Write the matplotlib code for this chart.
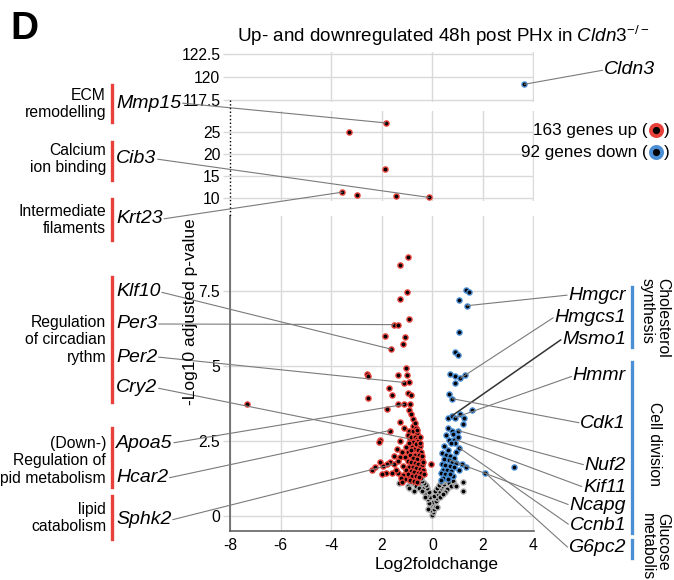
import matplotlib.pyplot as plt
from matplotlib.lines import Line2D

plt.rcParams['font.family'] = ['Liberation Sans', 'DejaVu Sans']
plt.rcParams['mathtext.fontset'] = 'custom'
plt.rcParams['mathtext.rm'] = 'Liberation Sans'
plt.rcParams['mathtext.it'] = 'Liberation Sans:italic'

# ---- data (log2 fold change, -log10 adjusted p) ----
up_main = [
    (-0.98, 8.62), (-1.29, 8.37), (-1.02, 7.47), (-1.26, 7.23), (-0.92, 6.56), (-1.53, 6.38),
    (-1.34, 6.38), (-1.87, 6.00), (-1.09, 5.97), (-1.17, 5.72), (-1.62, 5.56), (-1.05, 4.95),
    (-2.57, 4.75), (-2.54, 4.68), (-1.34, 4.70), (-1.00, 4.70), (-1.11, 4.45), (-0.91, 4.48),
    (-1.70, 4.27), (-1.59, 4.03), (-0.96, 4.10), (-0.86, 4.03), (-2.54, 3.95), (-1.34, 3.72),
    (-1.11, 3.72), (-0.90, 3.72), (-1.78, 3.56), (-0.92, 3.55), (-0.84, 3.41), (-0.76, 3.23),
    (-1.29, 3.13), (-1.12, 2.95), (-0.75, 3.00), (-1.69, 2.85), (-0.91, 2.85), (-0.75, 2.82),
    (-0.62, 2.76), (-2.07, 2.54), (-2.09, 2.46), (-1.26, 2.50), (-1.50, 2.00), (-1.28, 1.97),
    (-1.67, 1.81), (-1.81, 1.75), (-2.07, 1.80), (-1.94, 1.67), (-1.53, 1.73), (-2.40, 1.52),
    (-1.37, 1.42), (-1.17, 1.37), (-0.98, 1.30), (-7.32, 3.72), (-0.05, 1.75), (-0.90, 2.57),
    (-0.95, 2.70), (-0.85, 2.65), (-0.70, 2.62), (-0.60, 2.58), (-0.55, 2.50), (-0.78, 2.48),
    (-0.92, 2.42), (-0.65, 2.40), (-0.50, 2.35), (-1.05, 2.30), (-0.82, 2.30), (-0.72, 2.22),
    (-0.58, 2.20), (-0.45, 2.15), (-0.95, 2.12), (-0.88, 2.05), (-0.68, 2.05), (-0.52, 2.02),
    (-1.10, 1.98), (-0.78, 1.95), (-0.62, 1.90), (-0.42, 1.88), (-0.98, 1.85), (-0.85, 1.80),
    (-0.70, 1.78), (-0.55, 1.74), (-0.40, 1.70), (-1.15, 1.68), (-0.92, 1.65), (-0.78, 1.62),
    (-0.64, 1.60), (-0.50, 1.58), (-0.36, 1.55), (-1.05, 1.52), (-0.86, 1.50), (-0.72, 1.47),
    (-0.58, 1.45), (-0.44, 1.42), (-0.95, 1.40), (-0.80, 1.35), (-0.66, 1.32), (-0.52, 1.30),
    (-1.10, 1.22), (-0.90, 1.20), (-0.74, 1.18), (-0.60, 1.15), (-1.25, 1.28), (-1.45, 1.55),
    (-1.60, 1.45), (-1.85, 1.45), (-2.25, 1.65), (-2.00, 1.40), (-1.20, 1.12), (-0.50, 2.62),
    (-0.63, 2.95), (-0.85, 2.20), (-0.40, 2.00), (-1.35, 1.85), (-1.20, 2.15), (-1.40, 2.25),
    (-0.70, 3.10), (-0.60, 2.88), (-0.48, 2.45), (-0.35, 1.80), (-0.33, 1.40),
]
up_mid = [(-1.84, 27.1), (-3.28, 25.0), (-1.88, 16.7), (-3.56, 11.4), (-2.96, 10.7),
          (-1.44, 10.5), (-0.12, 10.2)]

down_main = [
    (1.33, 7.55), (1.44, 7.47), (1.05, 7.19), (1.37, 7.01), (1.07, 6.14), (0.88, 5.46),
    (1.00, 5.36), (0.70, 4.72), (0.91, 4.67), (1.28, 4.70), (1.11, 4.59), (0.90, 4.43),
    (0.66, 4.07), (0.79, 3.91), (1.57, 3.54), (0.62, 3.27), (0.76, 3.33), (0.90, 3.28),
    (1.09, 3.39), (1.26, 3.27), (1.21, 3.06), (0.62, 2.92), (0.76, 2.83), (1.00, 2.85),
    (0.55, 2.70), (0.82, 2.72), (0.67, 2.55), (0.84, 2.55), (0.91, 2.44), (0.74, 2.44),
    (1.07, 2.27), (0.63, 2.21), (2.09, 1.44), (3.24, 1.65), (1.17, 1.73), (1.33, 1.65),
    (0.40, 2.10), (0.55, 2.05), (0.70, 2.00), (0.85, 1.95), (0.45, 1.90), (0.67, 1.87),
    (0.78, 1.80), (0.95, 1.78), (0.38, 1.72), (0.52, 1.70), (0.68, 1.66), (0.85, 1.62),
    (0.42, 1.55), (0.58, 1.52), (0.74, 1.50), (0.35, 1.42), (0.50, 1.40), (0.65, 1.36),
    (0.82, 1.33), (0.44, 1.28), (0.60, 1.24), (0.36, 1.20), (1.05, 1.55), (0.95, 2.15),
    (0.48, 2.35), (0.70, 1.40), (1.00, 2.62),
]
down_top = [(3.64, 119.2)]

ns_main = [
    (-0.02, 0.05), (0.03, 0.12), (-0.06, 0.20), (0.06, 0.25), (-0.10, 0.32), (0.10, 0.35),
    (-0.04, 0.40), (0.02, 0.48), (-0.14, 0.45), (0.14, 0.50), (-0.18, 0.58), (0.18, 0.60),
    (-0.08, 0.62), (0.08, 0.68), (-0.22, 0.70), (0.24, 0.72), (-0.28, 0.78), (0.28, 0.82),
    (-0.12, 0.80), (0.12, 0.85), (-0.32, 0.88), (0.34, 0.92), (-0.20, 0.92), (0.20, 0.95),
    (-0.38, 0.98), (0.40, 1.00), (-0.26, 1.02), (0.28, 1.05), (-0.44, 1.06), (0.46, 1.08),
    (-0.34, 1.10), (0.36, 1.12), (-0.50, 1.15), (0.52, 1.16), (-0.40, 1.18), (0.42, 1.20),
    (-0.56, 1.22), (0.56, 1.25), (-0.46, 1.28), (0.48, 1.30), (-0.62, 1.30), (-0.70, 1.20),
    (0.64, 1.10), (-0.78, 1.10), (0.72, 1.00), (-0.66, 1.00), (-0.84, 1.25), (0.80, 1.18),
    (-0.54, 0.95), (0.58, 0.90), (-0.90, 1.15), (0.88, 1.05), (-0.72, 0.85), (0.50, 0.80),
    (-0.60, 1.40), (0.62, 1.45), (-0.30, 0.65), (0.32, 0.62), (-0.16, 0.25), (0.18, 0.30),
    (-0.42, 0.85), (0.44, 0.75), (-1.00, 1.35), (-0.95, 1.00), (-1.32, 1.09), (-0.91, 0.93),
    (1.20, 1.14), (1.20, 0.82), (0.94, 0.99),
]

x_ticks = [-8, -6, -4, -2, 0, 2, 4]
x_ticklabels = ['-8', '-6', '-4', '2', '0', '2', '4']

# gene labels: name, label y (px), panel, target point
left_genes = [
    ('Mmp15', 103, 'mid', (-1.84, 27.1)), ('Cib3', 159, 'mid', (-0.12, 10.2)),
    ('Krt23', 219, 'mid', (-3.56, 11.4)), ('Klf10', 292, 'main', (-1.62, 5.56)),
    ('Per3', 324, 'main', (-1.53, 6.38)), ('Per2', 357, 'main', (-1.11, 4.45)),
    ('Cry2', 388, 'main', (-0.90, 2.57)), ('Apoa5', 443, 'main', (-1.11, 3.72)),
    ('Hcar2', 478, 'main', (-1.69, 2.85)), ('Sphk2', 520, 'main', (-1.53, 1.73)),
]
right_genes = [
    ('Hmgcr', 295, (1.37, 7.01)), ('Hmgcs1', 317, (1.11, 4.59)), ('Msmo1', 339, (0.76, 3.33)),
    ('Hmmr', 376, (0.90, 3.28)), ('Cdk1', 423, (0.79, 3.91)), ('Nuf2', 465, (1.00, 2.85)),
    ('Kif11', 487, (0.91, 2.55)), ('Ncapg', 505, (0.67, 1.87)), ('Ccnb1', 525, (1.07, 2.27)),
    ('G6pc2', 548, (2.09, 1.44)),
]
left_groups = [
    ('ECM\nremodelling', 104, 85, 122), ('Calcium\nion binding', 159, 142, 180),
    ('Intermediate\nfilaments', 220, 199, 240), ('Regulation\nof circadian\nrythm', 340, 277, 402),
    ('(Down-)\nRegulation of\nlipid metabolism', 461, 428, 487), ('lipid\ncatabolism', 518, 496, 539),
]
right_groups = [
    ('Cholesterol\nsynthesis', 278, 287, 347), ('Cell division', 402, 362, 533),
    ('Glucose\nmetabolism', 513, 540, 558),
]

RED = '#e8413a'
BLUE = '#4a8fd4'
GRAY = '#b0b0b0'
GRID = '#d9d9d9'

W, H = 674, 580


def fx(px):
    return px / W


def fy(py):
    return 1 - py / H


fig = plt.figure(figsize=(6.74, 5.8), dpi=100)
L, R = 230, 534
ax_top = fig.add_axes([fx(L), fy(102), (R - L) / W, 50 / H])
ax_mid = fig.add_axes([fx(L), fy(201), (R - L) / W, 90 / H])
ax = fig.add_axes([fx(L), fy(531), (R - L) / W, 315 / H])


def dots(a, pts, edge):
    xs = [p[0] for p in pts]
    ys = [p[1] for p in pts]
    a.plot(xs, ys, 'o', ms=3.7, mfc='black', mec=edge, mew=1.0, zorder=3, clip_on=False)


dots(ax, ns_main, GRAY)
dots(ax, up_main, RED)
dots(ax, down_main, BLUE)
dots(ax_mid, up_mid, RED)
dots(ax_top, down_top, BLUE)

for a in (ax_top, ax_mid, ax):
    a.set_xlim(-8, 4.02)
    a.set_axisbelow(True)
    a.grid(True, color=GRID, lw=1)
    for s in a.spines.values():
        s.set_visible(False)
    a.tick_params(axis='y', length=5, color=GRID, width=1, pad=2, labelsize=11.3)
    a.tick_params(axis='x', length=0, labelsize=11.3, pad=5)

ax_top.set_ylim(117.25, 122.75)
ax_top.set_yticks([117.5, 120, 122.5], ['117.5', '120', '122.5'])
ax_top.set_xticks([-4, 0, 4], [])

ax_mid.set_ylim(9.4, 29.8)
ax_mid.set_yticks([10, 15, 20, 25])
ax_mid.set_xticks([-6, -4, -2, 0, 2, 4], [])

ax.set_ylim(-0.5, 10)
ax.set_yticks([0, 2.5, 5, 7.5], ['0', '2.5', '5', '7.5'])
ax.set_xticks(x_ticks, x_ticklabels)
for side in ('left', 'bottom'):
    ax.spines[side].set_visible(True)
    ax.spines[side].set_color('#555555')
    ax.spines[side].set_linewidth(1.1)

# dotted broken-axis line
fig.add_artist(Line2D([fx(L), fx(L)], [fy(100), fy(216)], ls=':', color='black', lw=1,
                      transform=fig.transFigure))

# texts
fig.text(fx(10), fy(29), 'D', fontsize=28, fontweight='bold', ha='left', va='center')
fig.text(fx(443), fy(36), r'Up- and downregulated 48h post PHx in $\mathit{Cldn3}^{-/-}$',
         fontsize=13.6, ha='center', va='center')
fig.text(fx(437), fy(565), 'Log2foldchange', fontsize=12.5, ha='center', va='center')
fig.text(fx(191), fy(312), '-Log10 adjusted p-value', fontsize=12.5, rotation=90,
         ha='center', va='center')

# legend
for label, py, col in [('163 genes up (', 130, RED), ('92 genes down (', 152, BLUE)]:
    fig.text(fx(648), fy(py), label, fontsize=12.3, ha='right', va='center')
    fig.add_artist(Line2D([fx(656)], [fy(py)], marker='o', ms=8, mfc='black', mec=col,
                          mew=2.8, transform=fig.transFigure))
    fig.text(fx(664), fy(py), ')', fontsize=12.3, ha='left', va='center')

line_kw = dict(arrowstyle='-', color='#7a7a7a', lw=0.8, shrinkA=1, shrinkB=0, patchA=None)

# left side groups and genes
for text, cy, y0, y1 in left_groups:
    fig.text(fx(106), fy(cy), text, fontsize=11.3, ha='right', va='center',
             multialignment='right', linespacing=1.2)
    fig.add_artist(Line2D([fx(112), fx(112)], [fy(y0), fy(y1)], color=RED, lw=2.4,
                          transform=fig.transFigure))

for name, py, panel, (gx, gy) in left_genes:
    a = ax_mid if panel == 'mid' else ax
    a.annotate(name, xy=(gx, gy), xycoords='data', xytext=(fx(116), fy(py)),
               textcoords='figure fraction', fontsize=14, fontstyle='italic',
               ha='left', va='center', annotation_clip=False,
               arrowprops=dict(relpos=(1, 0.5), **line_kw))

# right side groups and genes
for text, top, y0, y1 in right_groups:
    fig.text(fx(655), fy(top), text, fontsize=11.3, rotation=270, ha='center', va='top',
             multialignment='left', linespacing=1.0)
    fig.add_artist(Line2D([fx(632), fx(632)], [fy(y0), fy(y1)], color=BLUE, lw=2.4,
                          transform=fig.transFigure))

for name, py, (gx, gy) in right_genes:
    kw = dict(line_kw)
    if name == 'Msmo1':
        kw.update(color='#333333', lw=1.1)
    ax.annotate(name, xy=(gx, gy), xycoords='data', xytext=(fx(626), fy(py)),
                textcoords='figure fraction', fontsize=14, fontstyle='italic',
                ha='right', va='center', annotation_clip=False,
                arrowprops=dict(relpos=(0, 0.5), **kw))

ax_top.annotate('Cldn3', xy=down_top[0], xycoords='data', xytext=(fx(604), fy(70)),
                textcoords='figure fraction', fontsize=14, fontstyle='italic',
                ha='left', va='center', annotation_clip=False,
                arrowprops=dict(relpos=(0, 0.5), **line_kw))

fig.savefig('out.png', dpi=100)
